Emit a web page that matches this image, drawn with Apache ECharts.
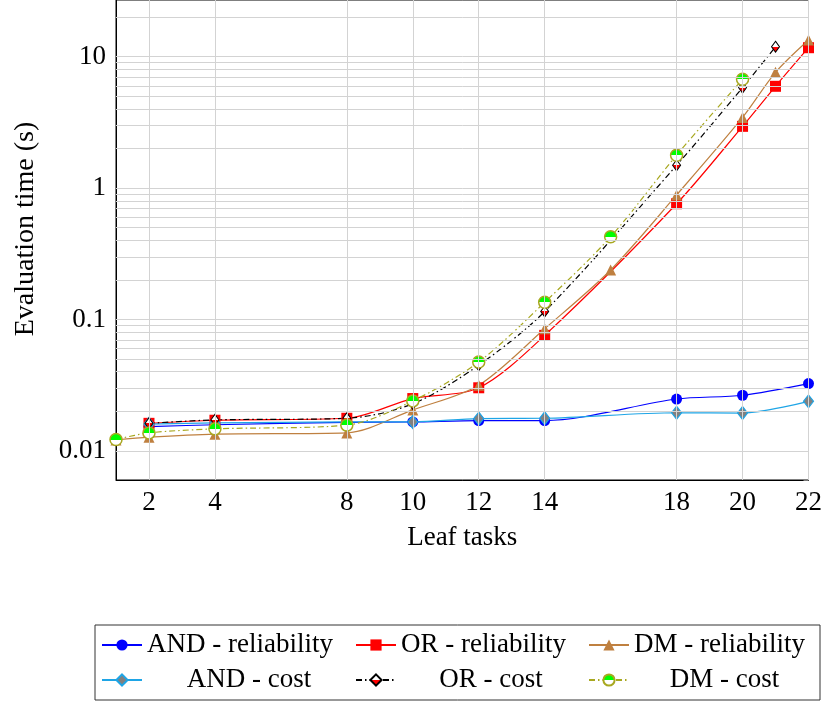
<!DOCTYPE html>
<html>
<head>
<meta charset="utf-8">
<script src="https://cdn.jsdelivr.net/npm/echarts@6/dist/echarts.min.js"></script>
<style>
  html, body { margin: 0; padding: 0; background: #fff; }
  #chart { width: 825px; height: 702px; }
</style>
</head>
<body>
<div id="chart"></div>
<script>
// leaf tasks (x) and evaluation time in seconds (y)
const andRelX = [2, 4, 8, 10, 12, 14, 18, 20, 22]
const andRelY = [0.0153, 0.0158, 0.0165, 0.0166, 0.0170, 0.0170, 0.0248, 0.0265, 0.0325]
const orRelX = [2, 4, 8, 10, 12, 14, 18, 20, 21, 22]
const orRelY = [0.0162, 0.0171, 0.0177, 0.0250, 0.0302, 0.0757, 0.760, 2.95, 5.95, 11.7]
const dmRelX = [1, 2, 4, 8, 10, 12, 14, 16, 18, 20, 21, 22]
const dmRelY = [0.0121, 0.0127, 0.0134, 0.0137, 0.0205, 0.0316, 0.085, 0.238, 0.886, 3.45, 7.6, 13.4]
const andCostX = [2, 4, 8, 10, 12, 14, 18, 20, 22]
const andCostY = [0.0160, 0.0163, 0.0166, 0.0166, 0.0176, 0.0177, 0.0195, 0.0194, 0.0238]
const orCostX = [2, 4, 8, 10, 12, 14, 18, 20, 21]
const orCostY = [0.0162, 0.0172, 0.0177, 0.0228, 0.0449, 0.115, 1.49, 5.82, 11.9]
const dmCostX = [1, 2, 4, 8, 10, 12, 14, 16, 18, 20]
const dmCostY = [0.0122, 0.0137, 0.0147, 0.0157, 0.0240, 0.0475, 0.135, 0.426, 1.78, 6.73]

const xTicks = [2, 4, 8, 10, 12, 14, 18, 20, 22]
const yGridValues = [
  0.006, 0.007, 0.008, 0.009, 0.01,
  0.02, 0.03, 0.04, 0.05, 0.06, 0.07, 0.08, 0.09, 0.1,
  0.2, 0.3, 0.4, 0.5, 0.6, 0.7, 0.8, 0.9, 1,
  2, 3, 4, 5, 6, 7, 8, 9, 10, 20
]

const FONT = 'Liberation Serif'

function pairs (xs, ys) {
  return xs.map((x, i) => [x, ys[i]])
}

// two-colour marker fill (top half / bottom half)
function half (top, bottom) {
  return {
    type: 'linear', x: 0, y: 0, x2: 0, y2: 1,
    colorStops: [
      { offset: 0, color: top }, { offset: 0.5, color: top },
      { offset: 0.5, color: bottom }, { offset: 1, color: bottom }
    ]
  }
}

function isPow10 (v) {
  const l = Math.log10(v)
  return Math.abs(l - Math.round(l)) < 1e-6
}

const gridLines = yGridValues.map(v => ({ yAxis: v }))
  .concat(xTicks.map(v => ({ xAxis: v })))

const legendItems = [
  { name: 'AND - reliability', left: 101, top: 630, w: 0 },
  { name: 'OR - reliability', left: 355, top: 630, w: 0 },
  { name: 'DM - reliability', left: 588, top: 630, w: 0 },
  { name: 'AND - cost', left: 101, top: 665, w: 204 },
  { name: 'OR - cost', left: 355, top: 665, w: 180 },
  { name: 'DM - cost', left: 588, top: 665, w: 181 }
]

const chart = echarts.init(document.getElementById('chart'))
chart.setOption({
  animation: false,
  textStyle: { fontFamily: FONT },
  grid: {
    left: 116,
    right: 16,
    top: -2,
    bottom: 222,
    show: true,
    borderColor: '#000',
    borderWidth: 1
  },
  xAxis: {
    type: 'value',
    min: 1,
    max: 22,
    name: 'Leaf tasks',
    nameLocation: 'middle',
    nameGap: 44,
    nameTextStyle: { fontFamily: FONT, fontSize: 27, color: '#000' },
    axisLine: { lineStyle: { color: '#000' } },
    axisTick: { inside: true, length: 5, customValues: xTicks, lineStyle: { color: '#777' } },
    axisLabel: { customValues: xTicks, fontFamily: FONT, fontSize: 27, color: '#000', margin: 9 },
    splitLine: { show: false }
  },
  yAxis: [{
    type: 'log',
    min: 0.006,
    max: 27,
    name: 'Evaluation time (s)',
    nameLocation: 'middle',
    nameGap: 76,
    nameTextStyle: { fontFamily: FONT, fontSize: 28, color: '#000', padding: [0, 0, 0, 22] },
    axisLine: { lineStyle: { color: '#000' } },
    axisTick: { inside: true, length: 5, lineStyle: { color: '#777' } },
    axisLabel: {
      fontFamily: FONT,
      fontSize: 27,
      color: '#000',
      margin: 10,
      showMinLabel: false,
      showMaxLabel: false,
      formatter: v => {
        if (!isPow10(v)) return ''
        const k = Math.round(Math.log10(v))
        return k < 0 ? Math.pow(10, k).toFixed(-k) : String(Math.pow(10, k))
      }
    },
    splitLine: { show: false }
  }, {
    type: 'log',
    min: 0.006,
    max: 27,
    position: 'right',
    axisLine: { lineStyle: { color: '#000' } },
    axisTick: { inside: true, length: 5, lineStyle: { color: '#777' } },
    axisLabel: { show: false },
    splitLine: { show: false }
  }],
  legend: legendItems.map(it => ({
    data: [it.name],
    left: it.left,
    top: it.top,
    padding: 0,
    itemWidth: 40,
    itemHeight: 14,
    selectedMode: false,
    formatter: it.w ? '{c|{name}}' : '{name}',
    textStyle: {
      fontFamily: FONT,
      fontSize: 27,
      lineHeight: 30,
      color: '#000',
      rich: it.w ? { c: { width: it.w, align: 'center', fontFamily: FONT, fontSize: 27, lineHeight: 30 } } : {}
    }
  })),
  graphic: [{
    type: 'rect',
    shape: { x: 95, y: 625, width: 725, height: 75 },
    style: { fill: 'none', stroke: '#333', lineWidth: 1 },
    silent: true
  }],
  series: [
    {
      name: 'grid',
      type: 'line',
      data: [],
      z: 1,
      silent: true,
      markLine: {
        silent: true,
        symbol: 'none',
        label: { show: false },
        lineStyle: { color: '#d3d3d3', width: 1, type: 'solid' },
        data: gridLines
      }
    },
    {
      name: 'AND - reliability',
      type: 'line',
      smooth: 0.3,
      symbol: 'circle',
      symbolSize: 11,
      data: pairs(andRelX, andRelY),
      lineStyle: { color: '#0000ff', width: 1.2 },
      itemStyle: { color: '#0000ff' }
    },
    {
      name: 'OR - reliability',
      type: 'line',
      smooth: 0.3,
      symbol: 'rect',
      symbolSize: 11,
      data: pairs(orRelX, orRelY),
      lineStyle: { color: '#ff0000', width: 1.2 },
      itemStyle: { color: '#ff0000' }
    },
    {
      name: 'DM - reliability',
      type: 'line',
      smooth: 0.3,
      symbol: 'triangle',
      symbolSize: 11,
      data: pairs(dmRelX, dmRelY),
      lineStyle: { color: '#bf8040', width: 1.2 },
      itemStyle: { color: '#bf8040' }
    },
    {
      name: 'AND - cost',
      type: 'line',
      smooth: 0.3,
      symbol: 'diamond',
      symbolSize: [10, 13],
      data: pairs(andCostX, andCostY),
      lineStyle: { color: '#1ea5e6', width: 1.2 },
      itemStyle: { color: '#808080', borderColor: '#1ea5e6', borderWidth: 1.2 }
    },
    {
      name: 'OR - cost',
      type: 'line',
      smooth: 0.3,
      symbol: 'diamond',
      symbolSize: [8, 11],
      data: pairs(orCostX, orCostY),
      lineStyle: { color: '#000', width: 1.2, type: [6, 3, 1.5, 3] },
      itemStyle: { color: half('#ffffff', '#ff0000'), borderColor: '#000', borderWidth: 1 }
    },
    {
      name: 'DM - cost',
      type: 'line',
      smooth: 0.3,
      symbol: 'circle',
      symbolSize: 12,
      data: pairs(dmCostX, dmCostY),
      lineStyle: { color: '#a8a820', width: 1.2, type: [6, 3, 1.5, 3] },
      itemStyle: { color: half('#00ff00', '#ffffff'), borderColor: '#a8a820', borderWidth: 1.5 }
    }
  ]
})
</script>
</body>
</html>
